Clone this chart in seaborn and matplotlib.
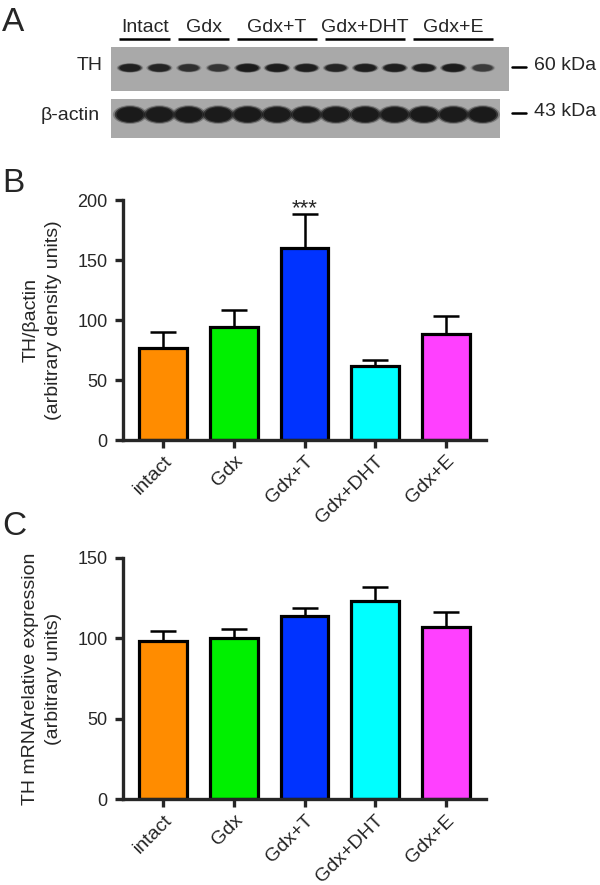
import numpy as np
import matplotlib
matplotlib.use("Agg")
import matplotlib.pyplot as plt
import seaborn as sns
from matplotlib.path import Path
from matplotlib.transforms import Affine2D, blended_transform_factory

# ---- data ----
groups = ["intact", "Gdx", "Gdx+T", "Gdx+DHT", "Gdx+E"]
colors = ["#ff8c00", "#00f000", "#0033ff", "#00ffff", "#ff40ff"]

protein_mean = [77, 94, 160, 62, 88]
protein_sem = [13, 14, 28, 5, 15]

mrna_mean = [98.5, 100, 113.5, 123, 107]
mrna_sem = [6, 6, 5.5, 9, 9]

# western blot (panel A)
blot_groups = ["Intact", "Gdx", "Gdx+T", "Gdx+DHT", "Gdx+E"]
blot_group_lanes = [[0, 1], [2, 3], [4, 5, 6], [7, 8, 9], [10, 11, 12]]
lanes = list(range(13))
th_density = [0.85, 0.8, 0.65, 0.6, 0.95, 0.92, 0.88, 0.78, 0.88, 0.88, 0.88, 0.92, 0.55]
actin_density = [1.0, 0.97, 1.0, 0.97, 1.0, 0.97, 1.0, 0.97, 1.0, 0.97, 1.0, 0.97, 1.0]

sns.set_style("ticks")
plt.rcParams['font.family'] = ['Liberation Sans', 'DejaVu Sans']

W, H = 600, 885
fig = plt.figure(figsize=(W / 100, H / 100), dpi=100)


def px_axes(x0, y0, x1, y1):
    # pixel box (top-left origin) -> figure axes
    return fig.add_axes([x0 / W, 1 - y1 / H, (x1 - x0) / W, (y1 - y0) / H])


def draw_bands(ax, dens, y, width_pt, ratio):
    ell = Path.unit_circle().transformed(Affine2D().scale(1, ratio))
    dens = np.array(dens)
    for scale, alpha in [(1.12, 0.3), (1.0, 0.7), (0.88, 1.0)]:
        sizes = (width_pt * scale * (0.8 + 0.2 * dens)) ** 2
        ax.scatter(lanes, [y] * len(lanes), s=sizes, marker=ell, color="#1a1a1a",
                   alpha=alpha * dens, linewidths=0, zorder=3)


# ---- panel A: blot ----
ax_th = px_axes(111, 47, 509, 91)
ax_ac = px_axes(111, 99, 500, 138)
for ax, right in [(ax_th, 12.89), (ax_ac, 12.585)]:
    ax.set_facecolor("#a9a9a9")
    ax.set_xlim(-0.646, right)
    ax.set_ylim(-1, 1)
    ax.set_xticks([])
    ax.set_yticks([])
    for s in ax.spines.values():
        s.set_visible(False)

draw_bands(ax_th, th_density, 0.05, 17.5, 0.36)
draw_bands(ax_ac, actin_density, 0.2, 22, 0.55)

tr = blended_transform_factory(ax_th.transData, ax_th.transAxes)
for name, ln in zip(blot_groups, blot_group_lanes):
    ax_th.plot([ln[0] - 0.36, ln[-1] + 0.36], [1.18, 1.18], color="black", lw=1.8,
               transform=tr, clip_on=False, solid_capstyle="butt")
    ax_th.text(np.mean(ln), 1.34, name, transform=tr, ha="center", va="baseline",
               fontsize=14)

fig.text(103 / W, 1 - 65 / H, "TH", ha="right", va="center", fontsize=14)
fig.text(100 / W, 1 - 115 / H, "β-actin", ha="right", va="center", fontsize=14)
for yy, lab in [(67, "60 kDa"), (113, "43 kDa")]:
    fig.add_artist(plt.Line2D([512 / W, 526 / W], [1 - yy / H, 1 - yy / H],
                              color="black", lw=1.8))
    fig.text(534 / W, 1 - (yy - 2) / H, lab, ha="left", va="center", fontsize=14)


# ---- panels B and C: bar charts ----
def bar_panel(ax, means, sems, ymax, step, ylabel):
    sns.barplot(x=groups, y=means, hue=groups, palette=colors, legend=False,
                width=0.68, edgecolor="black", linewidth=2.3, saturation=1, ax=ax)
    ax.errorbar(range(len(groups)), means, yerr=[[0] * len(sems), sems], fmt="none",
                ecolor="black", elinewidth=1.8, capsize=9.4, capthick=1.8, zorder=1)
    ax.set_ylim(0, ymax)
    ax.set_yticks(np.arange(0, ymax + 1, step))
    sns.despine(ax=ax)
    for s in ["left", "bottom"]:
        ax.spines[s].set_linewidth(2.4)
    ax.tick_params(axis="both", direction="out", length=6, width=2.4)
    ax.tick_params(axis="y", labelsize=13, pad=5)
    ax.tick_params(axis="x", labelsize=14, pad=3)
    ax.set_xticks(range(len(groups)))
    ax.set_xticklabels(groups, rotation=45, ha="right", rotation_mode="anchor")
    ax.set_xlabel("")
    ax.set_ylabel(ylabel, fontsize=14, linespacing=1.45, labelpad=11)


axB = px_axes(123, 200, 486, 440)
bar_panel(axB, protein_mean, protein_sem, 200, 50,
          "TH/βactin\n(arbitrary density units)")
axB.text(2, protein_mean[2] + protein_sem[2] + 5, "***", ha="center", va="center",
         fontsize=16)

axC = px_axes(123, 557.7, 486, 799.3)
bar_panel(axC, mrna_mean, mrna_sem, 150, 50,
          "TH mRNArelative expression\n(arbitrary units)")

for lab, yy in [("A", 7), ("B", 168), ("C", 511)]:
    fig.text(2 / W, 1 - yy / H, lab, ha="left", va="top", fontsize=24)

fig.savefig("out.png", dpi=100)
